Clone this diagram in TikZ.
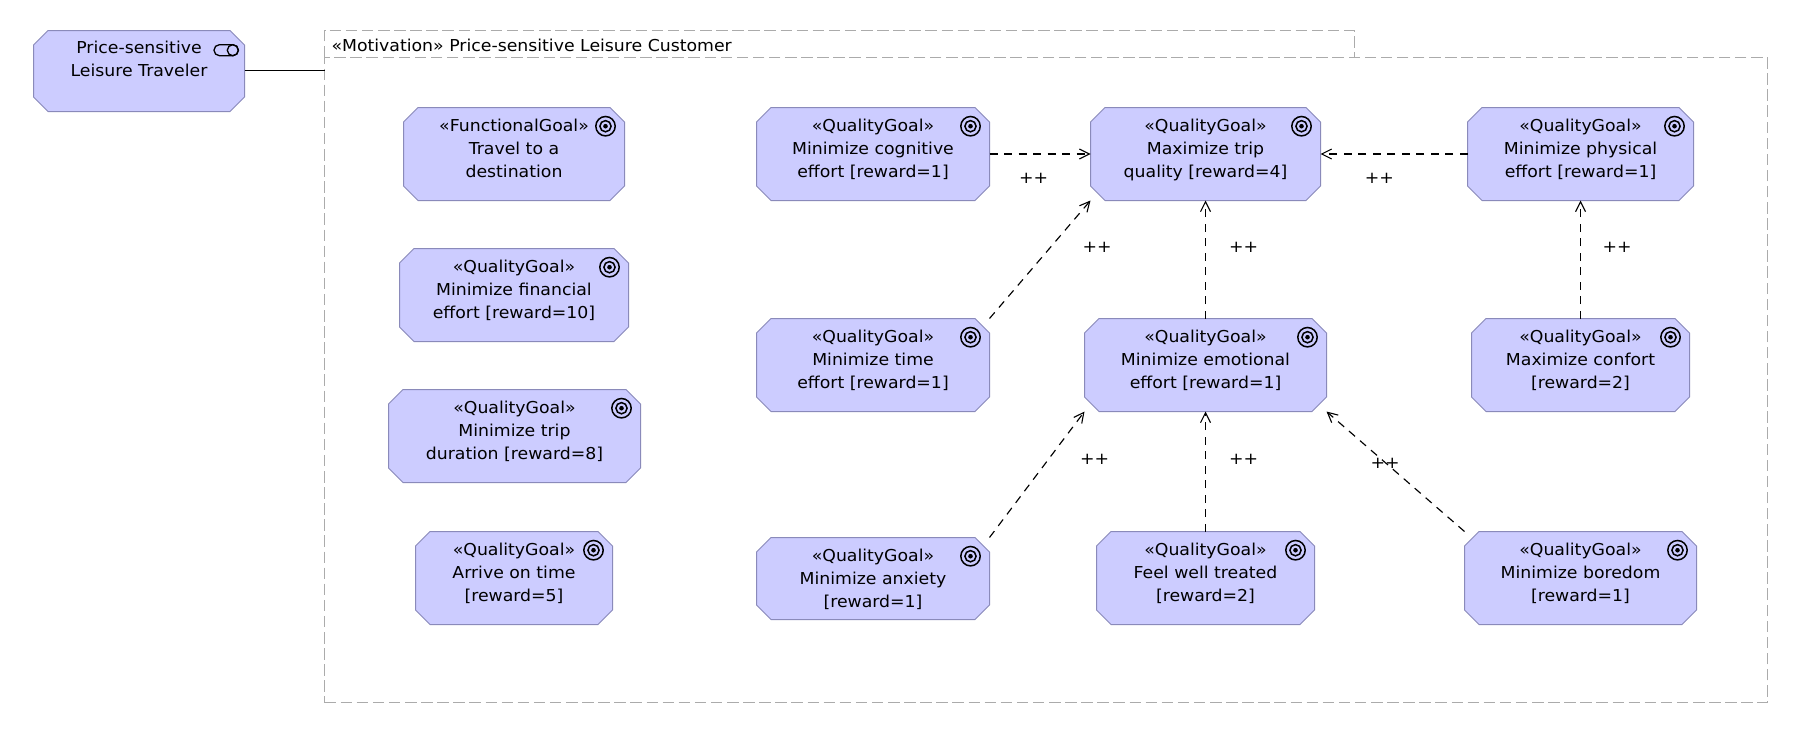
\documentclass[tikz,border=0pt]{standalone}
\usepackage{fontspec}
\setmainfont[FakeStretch=1.055]{DejaVu Sans}
\usetikzlibrary{arrows.meta,calc}
\definecolor{goalfill}{HTML}{CCCCFF}
\definecolor{goaledge}{HTML}{8A8ABA}
\definecolor{frameedge}{HTML}{ABABAB}
\tikzset{
  x=1pt,y=-1pt,
  goalbox/.style={rectangle,inner sep=0pt,outer sep=0pt},
  goalshape/.style={fill=goalfill,draw=goaledge,line width=1pt,line join=round},
  goaltext/.style={anchor=north,inner sep=0pt,outer sep=0pt,align=center,font=\fontsize{16.4}{23}\selectfont},
  framebox/.style={draw=frameedge,line width=1pt,dash pattern=on 11.5pt off 4.6pt,inner sep=0pt,outer sep=0pt,rectangle},
  flow/.style={draw=black,line width=1.15pt,dash pattern=on 8pt off 6.5pt,-{Straight Barb[length=10pt,width=10pt,line width=1.1pt]}},
  plus/.style={font=\fontsize{16.4}{20}\selectfont,inner sep=0pt},
  ringicon/.style={draw=black,line width=1.5pt,fill=none},
}
\newcommand{\chamfer}[4]{%
  \filldraw[goalshape] ({#1+14.5},#2) -- ({#3-14.5},#2) -- (#3,{#2+14.5}) -- (#3,{#4-14.5}) -- ({#3-14.5},#4) -- ({#1+14.5},#4) -- (#1,{#4-14.5}) -- (#1,{#2+14.5}) -- cycle;
}
\newcommand{\goal}[6]{%
  \pgfmathsetmacro{\cxv}{(#2+#4)/2}\pgfmathsetmacro{\cyv}{(#3+#5)/2}%
  \pgfmathsetmacro{\wv}{#4-#2}\pgfmathsetmacro{\hv}{#5-#3}%
  \pgfmathsetmacro{\tyv}{#3+10.2}\pgfmathsetmacro{\ixv}{#4-19}\pgfmathsetmacro{\iyv}{#3+18.7}%
  \chamfer{#2}{#3}{#4}{#5}
  \node[goalbox,minimum width=\wv pt,minimum height=\hv pt] (#1) at (\cxv,\cyv) {};
  \node[goaltext] (#1-t) at (\cxv,\tyv) {\rule{0pt}{14pt}#6};
  \draw[ringicon] (\ixv,\iyv) circle[radius=9.7pt];
  \draw[ringicon] (\ixv,\iyv) circle[radius=5.6pt];
  \fill (\ixv,\iyv) circle[radius=2.3pt];
}
\begin{document}
\begin{tikzpicture}
\useasboundingbox (0,0) rectangle (1804,734);
% frame
\node[goalbox,minimum width=1030pt,minimum height=27pt] (tab) at (839.5,44) {};
\draw[framebox] (tab.south west) -- (tab.north west) -- (tab.north east) -- (tab.south east);
\node[framebox,minimum width=1443pt,minimum height=645pt] (frame) at (1046,380) {};
\node[goaltext,anchor=west,font=\fontsize{16.4}{20}\selectfont] (tabtext) at (331.5,44.9) {«Motivation» Price-sensitive Leisure Customer};
% actor
\chamfer{33.5}{30.5}{244.5}{111.5}
\node[goalbox,minimum width=211pt,minimum height=81pt] (actor) at (139,70.8) {};
\node[goaltext] (actor-t) at (139,39.6) {\rule{0pt}{14pt}Price-sensitive\\Leisure Traveler};
\draw[ringicon,line width=1.3pt,rounded corners=5.4pt] (214,44.7) rectangle (238.4,55.7);
\draw[ringicon,line width=1.3pt] (232.8,50.2) circle[radius=5.5pt];
\draw[line width=1.2pt] (actor.east) -- (actor.east -| frame.west);
% goals
\goal{fun}{403.5}{107.5}{624.5}{200.5}{«FunctionalGoal»\\Travel to a\\destination}
\goal{fin}{399.5}{248.5}{628.5}{341.5}{«QualityGoal»\\Minimize financial\\effort [reward=10]}
\goal{dur}{388.5}{389.5}{640.5}{482.5}{«QualityGoal»\\Minimize trip\\duration [reward=8]}
\goal{arr}{415.5}{531.5}{612.5}{624.5}{«QualityGoal»\\Arrive on time\\[0pt][reward=5]}
\goal{cog}{756.5}{107.5}{989.5}{200.5}{«QualityGoal»\\Minimize cognitive\\effort [reward=1]}
\goal{tim}{756.5}{318.5}{989.5}{411.5}{«QualityGoal»\\Minimize time\\effort [reward=1]}
\goal{anx}{756.5}{537.5}{989.5}{619.5}{«QualityGoal»\\Minimize anxiety\\[0pt][reward=1]}
\goal{qua}{1090.5}{107.5}{1320.5}{200.5}{«QualityGoal»\\Maximize trip\\quality [reward=4]}
\goal{emo}{1084.5}{318.5}{1326.5}{411.5}{«QualityGoal»\\Minimize emotional\\effort [reward=1]}
\goal{fel}{1096.5}{531.5}{1314.5}{624.5}{«QualityGoal»\\Feel well treated\\[0pt][reward=2]}
\goal{phy}{1467.5}{107.5}{1693.5}{200.5}{«QualityGoal»\\Minimize physical\\effort [reward=1]}
\goal{com}{1471.5}{318.5}{1689.5}{411.5}{«QualityGoal»\\Maximize confort\\[0pt][reward=2]}
\goal{bor}{1464.5}{531.5}{1696.5}{624.5}{«QualityGoal»\\Minimize boredom\\[0pt][reward=1]}
% connectors
\draw[flow,yshift=0.2pt] (cog.east) -- (qua.west);
\draw[flow,yshift=0.2pt] (phy.west) -- (qua.east);
\draw[flow] (tim.north east) -- (qua.south west);
\draw[flow,xshift=0.5pt] (emo.north) -- (qua.south);
\draw[flow] (com.north) -- (phy.south);
\draw[flow] (anx.north east) -- (emo.south west);
\draw[flow,xshift=0.5pt] (fel.north) -- (emo.south);
\draw[flow] (bor.north west) -- (emo.south east);
% labels
\node[plus] (p1) at (1033.7,178.5) {++};
\node[plus] (p2) at (1379.3,178.5) {++};
\node[plus] (p3) at (1097,247.7) {++};
\node[plus] (p4) at (1243.7,247.7) {++};
\node[plus] (p5) at (1617,247.7) {++};
\node[plus] (p6) at (1094.7,459.8) {++};
\node[plus] (p7) at (1243.6,459.8) {++};
\node[plus] (p8) at (1385,463.3) {++};
\end{tikzpicture}
\end{document}
